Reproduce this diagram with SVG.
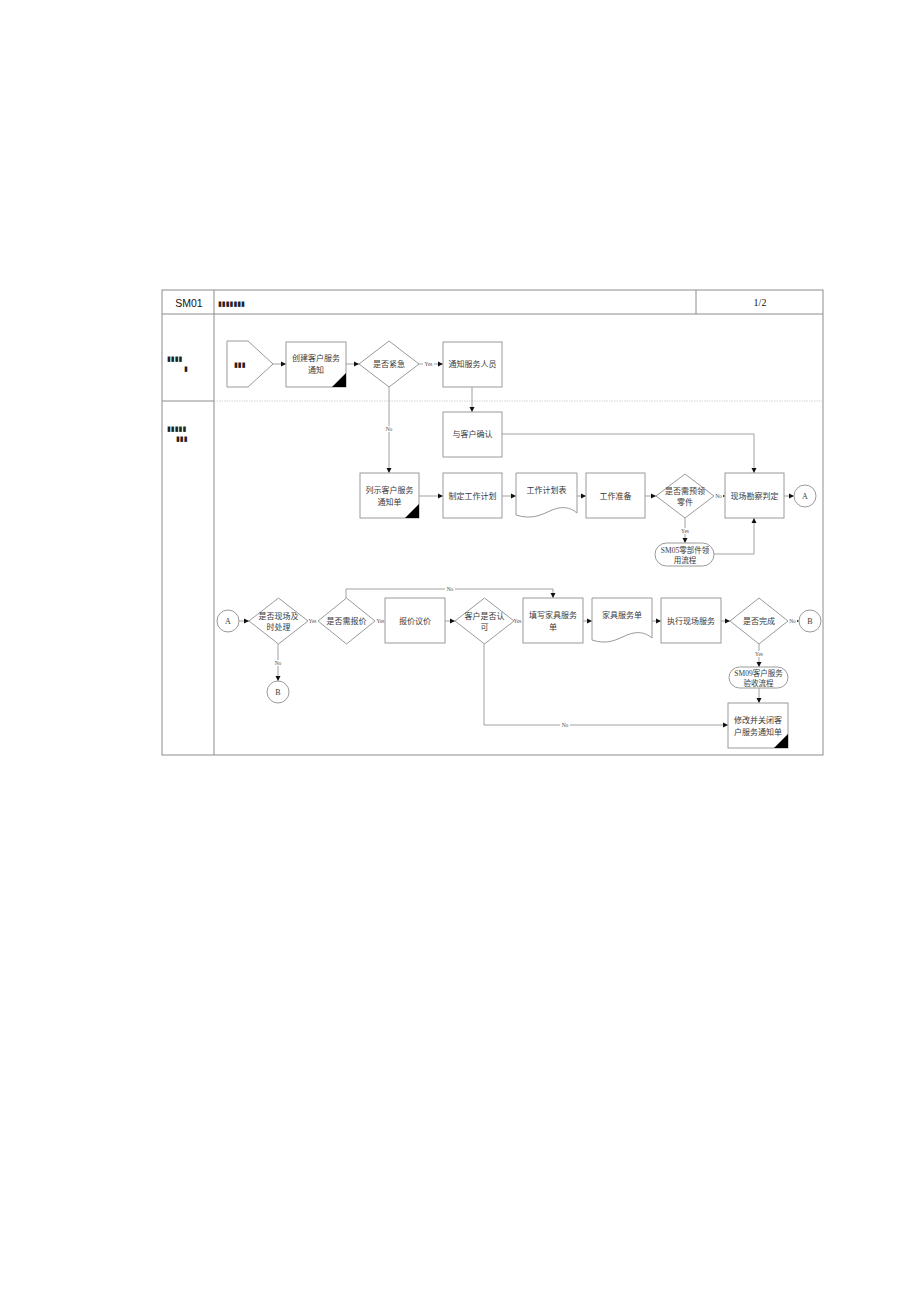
<svg xmlns="http://www.w3.org/2000/svg" width="920" height="1302" viewBox="0 0 920 1302">
<style>
.frame{fill:none;stroke:#8c8c8c;stroke-width:1}
.box{fill:#fff;stroke:#9a9a9a;stroke-width:1}
.tri{fill:#000}
.t{font-family:"Liberation Serif","Noto Sans CJK SC",serif;font-size:8px;fill:#3a3a3a;text-anchor:middle}
.s{font-size:7.5px}
.lbl{font-family:"Liberation Serif",serif;font-size:5.5px;fill:#555;text-anchor:middle}
.tofu{font-family:"DejaVu Sans",sans-serif;font-size:7px;fill:#222;font-weight:bold}
.c{fill:none;stroke:#8c8c8c;stroke-width:0.8}
.lb{fill:#fff}
</style>
<defs>
<marker id="ah" markerWidth="6" markerHeight="6" refX="5" refY="3" orient="auto" markerUnits="userSpaceOnUse">
<path d="M0,0.5 L5,3 L0,5.5 Z" fill="#111"/>
</marker>
</defs>
<rect width="920" height="1302" fill="#fff"/>
<g id="frame">
<rect class="frame" x="162" y="290" width="661" height="465"/>
<line class="frame" x1="162" y1="314" x2="823" y2="314"/>
<line class="frame" x1="214" y1="290" x2="214" y2="755" stroke="#bbb"/>
<line class="frame" x1="696" y1="290" x2="696" y2="314" stroke="#555"/>
<line class="frame" x1="162" y1="401" x2="214" y2="401"/>
<line x1="214" y1="401" x2="823" y2="401" stroke="#c8c8c8" stroke-width="0.8" stroke-dasharray="1.5,1"/>
<text x="189" y="307" font-family="Liberation Sans,sans-serif" font-size="10.5" fill="#111" text-anchor="middle">SM01</text>
<text class="tofu" x="218" y="306">▮▮▮▮▮▮▮</text>
<text x="760" y="306" font-family="Liberation Serif,serif" font-size="10" fill="#111" text-anchor="middle">1/2</text>
<text class="tofu" x="167" y="361" font-size="6">▮▮▮▮</text>
<text class="tofu" x="184" y="371" font-size="6">▮</text>
<text class="tofu" x="167" y="431" font-size="6">▮▮▮▮▮</text>
<text class="tofu" x="176" y="441" font-size="6">▮▮▮</text>
</g>
<g id="connectors">
<line class="c" x1="273" y1="364" x2="286" y2="364" marker-end="url(#ah)"/>
<line class="c" x1="346" y1="364" x2="359" y2="364" marker-end="url(#ah)"/>
<line class="c" x1="419" y1="364" x2="443" y2="364" marker-end="url(#ah)"/>
<line class="c" x1="472" y1="387" x2="472" y2="412" marker-end="url(#ah)"/>
<line class="c" x1="389" y1="387" x2="389" y2="473" marker-end="url(#ah)"/>
<line class="c" x1="419" y1="496" x2="443" y2="496" marker-end="url(#ah)"/>
<line class="c" x1="502" y1="496" x2="516" y2="496" marker-end="url(#ah)"/>
<line class="c" x1="577" y1="496" x2="586" y2="496" marker-end="url(#ah)"/>
<line class="c" x1="645" y1="496" x2="656" y2="496" marker-end="url(#ah)"/>
<line class="c" x1="713" y1="496" x2="725" y2="496" marker-end="url(#ah)"/>
<line class="c" x1="784" y1="496" x2="794" y2="496" marker-end="url(#ah)"/>
<polyline class="c" points="502,434 754,434 754,473" marker-end="url(#ah)"/>
<line class="c" x1="685" y1="518" x2="685" y2="543" marker-end="url(#ah)"/>
<polyline class="c" points="714,554 754,554 754,518" marker-end="url(#ah)"/>
<line class="c" x1="239" y1="621" x2="249" y2="621" marker-end="url(#ah)"/>
<line class="c" x1="308" y1="621" x2="318" y2="621" marker-end="url(#ah)"/>
<line class="c" x1="375" y1="621" x2="385" y2="621" marker-end="url(#ah)"/>
<line class="c" x1="445" y1="621" x2="455" y2="621" marker-end="url(#ah)"/>
<line class="c" x1="514" y1="621" x2="523" y2="621" marker-end="url(#ah)"/>
<polyline class="c" points="346,598 346,589 553,589 553,598" marker-end="url(#ah)"/>
<line class="c" x1="583" y1="621" x2="592" y2="621" marker-end="url(#ah)"/>
<line class="c" x1="652" y1="621" x2="661" y2="621" marker-end="url(#ah)"/>
<line class="c" x1="721" y1="621" x2="730" y2="621" marker-end="url(#ah)"/>
<line class="c" x1="788" y1="621" x2="799" y2="621" marker-end="url(#ah)"/>
<line class="c" x1="759" y1="643" x2="759" y2="667" marker-end="url(#ah)"/>
<line class="c" x1="759" y1="688" x2="759" y2="703" marker-end="url(#ah)"/>
<line class="c" x1="278" y1="643" x2="278" y2="681" marker-end="url(#ah)"/>
<polyline class="c" points="484,643 484,725 728,725" marker-end="url(#ah)"/>
<g id="labels">
<rect class="lb" x="423" y="361" width="11" height="6"/><text class="lbl" x="428.5" y="366">Yes</text>
<rect class="lb" x="384" y="426" width="10" height="6"/><text class="lbl" x="389" y="431">No</text>
<rect class="lb" x="714" y="493" width="9" height="6"/><text class="lbl" x="718.5" y="498">No</text>
<rect class="lb" x="679" y="528" width="12" height="6"/><text class="lbl" x="685" y="533">Yes</text>
<rect class="lb" x="307" y="618" width="11" height="6"/><text class="lbl" x="312.5" y="623">Yes</text>
<rect class="lb" x="375" y="618" width="11" height="6"/><text class="lbl" x="380.5" y="623">Yes</text>
<rect class="lb" x="512" y="618" width="11" height="6"/><text class="lbl" x="517.5" y="623">Yes</text>
<rect class="lb" x="445" y="586" width="10" height="6"/><text class="lbl" x="450" y="591">No</text>
<rect class="lb" x="788" y="618" width="9" height="6"/><text class="lbl" x="792.5" y="623">No</text>
<rect class="lb" x="753" y="651" width="12" height="6"/><text class="lbl" x="759" y="656">Yes</text>
<rect class="lb" x="273" y="660" width="10" height="6"/><text class="lbl" x="278" y="665">No</text>
<rect class="lb" x="560" y="722" width="10" height="6"/><text class="lbl" x="565" y="727">No</text>
</g>
</g>
<g id="start">
<path class="box" d="M227,341 H248 L273,364 L248,387 H227 Z"/>
<text class="tofu" x="234" y="367" font-size="6">▮▮▮</text>
</g>
<g id="create">
<rect class="box" x="286" y="342" width="60" height="45"/>
<path class="tri" d="M332,387 L346,373 V387 Z"/>
<text class="t" x="316" y="361">创建客户服务</text>
<text class="t" x="316" y="373">通知</text>
</g>
<g id="urgent">
<path class="box" d="M389,341 L419,364 L389,387 L359,364 Z"/>
<text class="t" x="389" y="367">是否紧急</text>
</g>
<g id="notify">
<rect class="box" x="443" y="342" width="59" height="45"/>
<text class="t" x="472.5" y="367">通知服务人员</text>
</g>
<g id="confirm">
<rect class="box" x="443" y="412" width="59" height="45"/>
<text class="t" x="472.5" y="437">与客户确认</text>
</g>
<g id="list">
<rect class="box" x="360" y="473" width="59" height="45"/>
<path class="tri" d="M405,518 L419,504 V518 Z"/>
<text class="t" x="389.5" y="493">列示客户服务</text>
<text class="t" x="389.5" y="505">通知单</text>
</g>
<g id="plan">
<rect class="box" x="443" y="473" width="59" height="45"/>
<text class="t" x="472.5" y="499">制定工作计划</text>
</g>
<g id="plansheet">
<path class="box" d="M516,473 H577 V513 C570,507 562,506 552,510 C541,515 532,520 516,515 Z"/>
<text class="t" x="546.5" y="493">工作计划表</text>
</g>
<g id="prepare">
<rect class="box" x="586" y="473" width="59" height="45"/>
<text class="t" x="615.5" y="499">工作准备</text>
</g>
<g id="needparts">
<path class="box" d="M685,474 L714,496 L685,518 L656,496 Z"/>
<text class="t" x="685" y="494">是否需预领</text>
<text class="t" x="685" y="505">零件</text>
</g>
<g id="survey">
<rect class="box" x="725" y="473" width="59" height="45"/>
<text class="t" x="754.5" y="499">现场勘察判定</text>
</g>
<g id="circleA1">
<circle class="box" cx="805" cy="496" r="11"/>
<text class="t" x="805" y="499" font-size="7">A</text>
</g>
<g id="sm05">
<rect class="box" x="655" y="543" width="59" height="23" rx="11.5"/>
<text class="t s" x="685" y="552.5">SM05零部件领</text>
<text class="t s" x="685" y="563">用流程</text>
</g>
<g id="circleA2">
<circle class="box" cx="228" cy="621" r="11"/>
<text class="t" x="228" y="624" font-size="7">A</text>
</g>
<g id="onsite">
<path class="box" d="M278.5,598 L308,621 L278.5,644 L249,621 Z"/>
<text class="t" x="278.5" y="619">是否现场及</text>
<text class="t" x="278.5" y="630">时处理</text>
</g>
<g id="needquote">
<path class="box" d="M346.5,598 L375,621 L346.5,644 L318,621 Z"/>
<text class="t" x="346.5" y="624">是否需报价</text>
</g>
<g id="quote">
<rect class="box" x="385" y="598" width="60" height="45"/>
<text class="t" x="415" y="624">报价议价</text>
</g>
<g id="approve">
<path class="box" d="M484.5,598 L514,621 L484.5,644 L455,621 Z"/>
<text class="t" x="484.5" y="619">客户是否认</text>
<text class="t" x="484.5" y="630">可</text>
</g>
<g id="fill">
<rect class="box" x="523" y="598" width="60" height="45"/>
<text class="t" x="553" y="618">填写家具服务</text>
<text class="t" x="553" y="630">单</text>
</g>
<g id="sheet">
<path class="box" d="M592,598 H652 V638 C645,632 637,631 627,635 C616,640 607,645 592,640 Z"/>
<text class="t" x="622" y="618">家具服务单</text>
</g>
<g id="execute">
<rect class="box" x="661" y="598" width="60" height="45"/>
<text class="t" x="691" y="624">执行现场服务</text>
</g>
<g id="done">
<path class="box" d="M759,598 L788,621 L759,644 L730,621 Z"/>
<text class="t" x="759" y="624">是否完成</text>
</g>
<g id="circleB1">
<circle class="box" cx="810" cy="621" r="11"/>
<text class="t" x="810" y="624" font-size="7">B</text>
</g>
<g id="circleB2">
<circle class="box" cx="278" cy="692" r="11"/>
<text class="t" x="278" y="695" font-size="7">B</text>
</g>
<g id="sm09">
<rect class="box" x="729" y="667" width="59" height="21" rx="10.5"/>
<text class="t s" x="758.5" y="676">SM09客户服务</text>
<text class="t s" x="758.5" y="686">验收流程</text>
</g>
<g id="close">
<rect class="box" x="728" y="703" width="60" height="45"/>
<path class="tri" d="M774,748 L788,734 V748 Z"/>
<text class="t" x="758" y="723">修改并关闭客</text>
<text class="t" x="758" y="735">户服务通知单</text>
</g>
</svg>
